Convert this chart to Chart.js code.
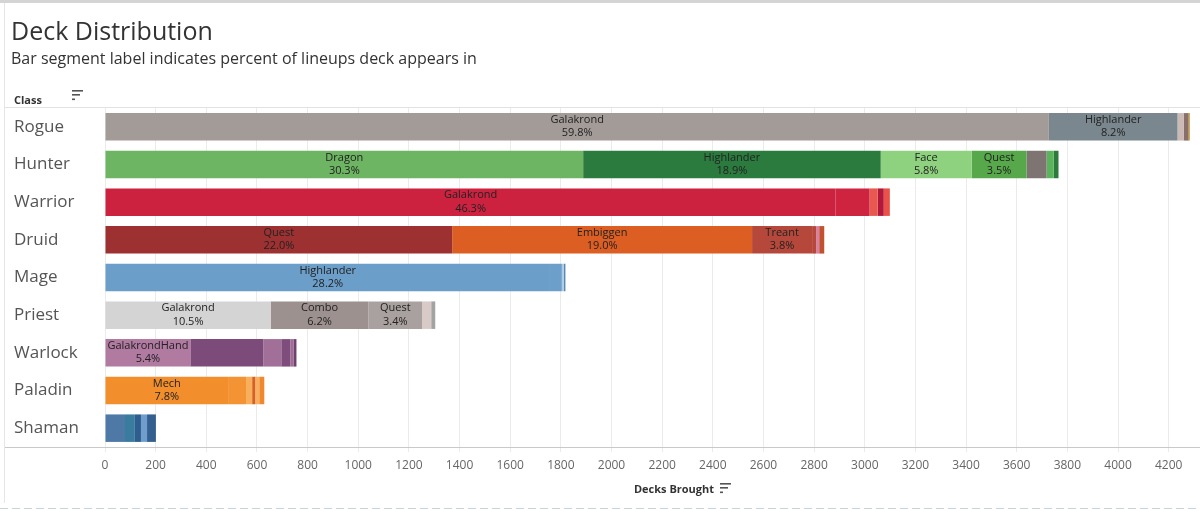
<!DOCTYPE html>
<html>
<head>
<meta charset="utf-8">
<script src="https://cdn.jsdelivr.net/npm/chart.js@4.4.1/dist/chart.umd.min.js"></script>
<style>
  html, body { margin: 0; padding: 0; background: #fff; }
  #wrap { width: 1200px; height: 511px; }
</style>
</head>
<body>
<div id="wrap"><canvas id="deckChart" width="1200" height="511"></canvas></div>
<script>
// Classes, top to bottom
const classes = ["Rogue", "Hunter", "Warrior", "Druid", "Mage", "Priest", "Warlock", "Paladin", "Shaman"];

// x axis tick values
const xTicks = [0, 200, 400, 600, 800, 1000, 1200, 1400, 1600, 1800, 2000, 2200, 2400, 2600, 2800, 3000, 3200, 3400, 3600, 3800, 4000, 4200];

// Decks brought per archetype segment (left to right within each bar)
const rogueDecks   = [3727, 508, 24, 20, 5];
const hunterDecks  = [1888, 1175, 359, 217, 79, 28, 19];
const warriorDecks = [2885, 134, 32, 24, 24];
const druidDecks   = [1371, 1184, 237, 16, 12, 20];
const mageDecks    = [1757, 47, 8, 6];
const priestDecks  = [654, 386, 212, 36, 16];
const warlockDecks = [337, 288, 71, 36, 12, 12];
const paladinDecks = [486, 71, 24, 12, 16, 20];
const shamanDecks  = [79, 39, 24, 24, 35];

// Segment labels: archetype + percent of lineups
const rogueLabels   = [["Galakrond", "59.8%"], ["Highlander", "8.2%"]];
const hunterLabels  = [["Dragon", "30.3%"], ["Highlander", "18.9%"], ["Face", "5.8%"], ["Quest", "3.5%"]];
const warriorLabels = [["Galakrond", "46.3%"]];
const druidLabels   = [["Quest", "22.0%"], ["Embiggen", "19.0%"], ["Treant", "3.8%"]];
const mageLabels    = [["Highlander", "28.2%"]];
const priestLabels  = [["Galakrond", "10.5%"], ["Combo", "6.2%"], ["Quest", "3.4%"]];
const warlockLabels = [["GalakrondHand", "5.4%"]];
const paladinLabels = [["Mech", "7.8%"]];
const shamanLabels  = [];

// Segment colours
const rogueColors   = ["#a39b98", "#7b878e", "#cbbab5", "#8a706b", "#d6a63a"];
const hunterColors  = ["#6db562", "#2c7b3e", "#8ed27f", "#56a84a", "#7e7472", "#5ab45c", "#2d7a3d"];
const warriorColors = ["#cd223f", "#ce2440", "#e8584f", "#b3183a", "#ea5249"];
const druidColors   = ["#9d3131", "#dc5e23", "#b5483b", "#b7473a", "#d880a2", "#c2522f"];
const mageColors    = ["#6b9ec8", "#6c9fc9", "#aecbe8", "#5a88b5"];
const priestColors  = ["#d4d4d4", "#9c918f", "#a9a1a0", "#d8cbc7", "#a3a3a3"];
const warlockColors = ["#b07aa1", "#7d4b79", "#a26f99", "#7f4d7c", "#a06b96", "#6f416d"];
const paladinColors = ["#f28e2b", "#f39333", "#f8ae5a", "#d9601f", "#f7b061", "#f0882e"];
const shamanColors  = ["#4e79a7", "#3a7ca0", "#2f5e8e", "#6f9ecc", "#33608f"];

const decksByClass  = [rogueDecks, hunterDecks, warriorDecks, druidDecks, mageDecks, priestDecks, warlockDecks, paladinDecks, shamanDecks];
const labelsByClass = [rogueLabels, hunterLabels, warriorLabels, druidLabels, mageLabels, priestLabels, warlockLabels, paladinLabels, shamanLabels];
const colorsByClass = [rogueColors, hunterColors, warriorColors, druidColors, mageColors, priestColors, warlockColors, paladinColors, shamanColors];

const FONT = "'Open Sans', 'Noto Sans', sans-serif";

// one dataset per segment slot, stacked
const slotCount = Math.max(...decksByClass.map(a => a.length));
const datasets = [];
for (let i = 0; i < slotCount; i++) {
  datasets.push({
    data: decksByClass.map(a => (a[i] === undefined ? null : a[i])),
    backgroundColor: colorsByClass.map(c => c[i] || "transparent"),
    segLabels: labelsByClass.map(l => l[i] || null),
    stack: "deck",
    borderWidth: 0,
    barPercentage: 0.73,
    categoryPercentage: 1.0
  });
}

function sortIcon(ctx, x, y) {
  ctx.fillStyle = "#555";
  ctx.fillRect(x, y, 11, 1.6);
  ctx.fillRect(x, y + 4, 8, 1.6);
  ctx.fillRect(x, y + 8.5, 3, 1.6);
}

const decorPlugin = {
  id: "decor",
  beforeDraw(chart) {
    const ctx = chart.ctx;
    ctx.save();
    ctx.fillStyle = "#fff";
    ctx.fillRect(0, 0, chart.width, chart.height);
    // frame
    ctx.fillStyle = "#d4d4d4";
    ctx.fillRect(0, 0, chart.width, 3);
    ctx.fillStyle = "#e6e6e6";
    ctx.fillRect(4, 3, 1, 500);
    ctx.restore();
  },
  afterDraw(chart) {
    const ctx = chart.ctx;
    const area = chart.chartArea;
    ctx.save();
    ctx.textBaseline = "alphabetic";
    ctx.textAlign = "left";
    ctx.fillStyle = "#333";
    ctx.font = "25px " + FONT;
    ctx.fillText("Deck Distribution", 11, 40);
    ctx.font = "16px " + FONT;
    ctx.fillText("Bar segment label indicates percent of lineups deck appears in", 11, 64);
    ctx.font = "bold 11px " + FONT;
    ctx.fillText("Class", 14, 104);
    sortIcon(ctx, 72, 90);

    // header and axis lines
    ctx.fillStyle = "#e2e2e2";
    ctx.fillRect(5, area.top - 1, chart.width - 5, 1);
    ctx.fillStyle = "#c9c9c9";
    ctx.fillRect(5, area.bottom, chart.width - 5, 1);

    // x axis title
    ctx.fillStyle = "#333";
    ctx.font = "bold 11px " + FONT;
    ctx.textAlign = "center";
    ctx.fillText("Decks Brought", 674, 493);
    sortIcon(ctx, 720, 483);

    // dashed bottom border
    ctx.strokeStyle = "#c5d3e0";
    ctx.lineWidth = 1;
    ctx.setLineDash([8, 4]);
    ctx.beginPath();
    ctx.moveTo(0, 508.5);
    ctx.lineTo(chart.width, 508.5);
    ctx.stroke();
    ctx.restore();
  },
  afterDatasetsDraw(chart) {
    const ctx = chart.ctx;
    ctx.save();
    ctx.font = "11px " + FONT;
    ctx.fillStyle = "#222";
    ctx.textAlign = "center";
    ctx.textBaseline = "middle";
    chart.data.datasets.forEach((ds, di) => {
      const meta = chart.getDatasetMeta(di);
      meta.data.forEach((bar, idx) => {
        const lab = ds.segLabels[idx];
        if (!lab) return;
        const cx = (bar.x + bar.base) / 2;
        ctx.fillText(lab[0], cx, bar.y - 7);
        ctx.fillText(lab[1], cx, bar.y + 6.5);
      });
    });
    ctx.restore();
  }
};

new Chart(document.getElementById("deckChart").getContext("2d"), {
  type: "bar",
  data: { labels: classes, datasets: datasets },
  options: {
    indexAxis: "y",
    responsive: false,
    animation: false,
    layout: { padding: { left: 14, top: 108, right: 6, bottom: 0 } },
    plugins: {
      legend: { display: false },
      tooltip: { enabled: false },
      title: { display: false }
    },
    scales: {
      x: {
        stacked: true,
        min: 0,
        max: 4300,
        afterFit: s => { s.height = 64; },
        afterBuildTicks: s => { s.ticks = xTicks.map(v => ({ value: v })); },
        ticks: {
          padding: 6,
          color: "#666",
          font: { family: FONT, size: 12 },
          maxRotation: 0,
          autoSkip: false,
          callback: v => String(v)
        },
        grid: { color: "#ebebeb", tickLength: 5, drawTicks: true, tickColor: "#ebebeb" },
        border: { display: false }
      },
      y: {
        stacked: true,
        afterFit: s => { s.width = 91; },
        ticks: {
          crossAlign: "far",
          color: "#555",
          font: { family: FONT, size: 17 }
        },
        grid: { display: false },
        border: { display: false }
      }
    }
  },
  plugins: [decorPlugin]
});
</script>
</body>
</html>
